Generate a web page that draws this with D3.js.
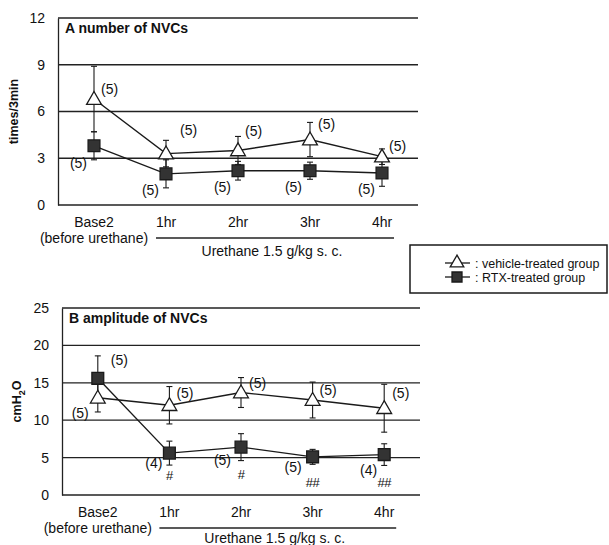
<!DOCTYPE html>
<html>
<head>
<meta charset="utf-8">
<script src="https://cdn.jsdelivr.net/npm/d3@7"></script>
<style>
  body { margin: 0; background: #fff; }
  svg { font-family: "Liberation Sans", Arial, sans-serif; }
</style>
</head>
<body>
<div id="chart"></div>
<script>
// time points on the x axis
const timepoints = ['Base2', '1hr', '2hr', '3hr', '4hr'];

// panel A: number of NVCs (times/3min), mean and SE
const countVehicle = [6.8, 3.3, 3.5, 4.2, 3.1];
const countVehicleErr = [2.1, 0.85, 0.9, 1.1, 0.5];
const countRtx = [3.8, 2.0, 2.2, 2.2, 2.05];
const countRtxErr = [0.9, 0.9, 0.6, 0.55, 0.85];
const countVehicleN = ['(5)', '(5)', '(5)', '(5)', '(5)'];
const countRtxN = ['(5)', '(5)', '(5)', '(5)', '(5)'];
const countTicks = [0, 3, 6, 9, 12];

// panel B: amplitude of NVCs (cmH2O), mean and SE
const ampVehicle = [13.0, 12.0, 13.7, 12.7, 11.6];
const ampVehicleErr = [1.9, 2.5, 2.0, 2.4, 3.2];
const ampRtx = [15.6, 5.6, 6.4, 5.1, 5.4];
const ampRtxErr = [3.0, 1.6, 1.8, 1.0, 1.45];
const ampVehicleN = ['(5)', '(5)', '(5)', '(5)', '(5)'];
const ampRtxN = ['(5)', '(4)', '(5)', '(5)', '(4)'];
const ampSig = ['', '#', '#', '##', '##'];
const ampTicks = [0, 5, 10, 15, 20, 25];

const d3svg = d3.select('#chart').append('svg')
  .attr('width', 609)
  .attr('height', 545);

// label offsets (px from the marker), [dx, dy, anchor]
const panels = [
  {
    title: 'A number of NVCs',
    ylabel: 'times/3min',
    top: 18, left: 58, right: 418, height: 187,
    ticks: countTicks,
    vehicle: countVehicle, vehicleErr: countVehicleErr,
    rtx: countRtx, rtxErr: countRtxErr,
    vehicleN: countVehicleN, rtxN: countRtxN, sig: null,
    vehicleLab: [[7, -5, 'start'], [14, -19, 'start'], [7, -14, 'start'], [8, -11, 'start'], [7, -6, 'start']],
    rtxLab: [[-7, 22, 'end'], [-7, 21, 'end'], [-7, 21, 'end'], [-8, 21, 'end'], [-7, 21, 'end']],
    ylabelX: 18,
    urethaneDy: 51,
  },
  {
    title: 'B amplitude of NVCs',
    ylabel: 'cmH2O',
    top: 308, left: 62, right: 420, height: 187,
    ticks: ampTicks,
    vehicle: ampVehicle, vehicleErr: ampVehicleErr,
    rtx: ampRtx, rtxErr: ampRtxErr,
    vehicleN: ampVehicleN, rtxN: ampRtxN, sig: ampSig,
    vehicleLab: [[-9, 20, 'end'], [7, -7, 'start'], [8, -5, 'start'], [7, -5, 'start'], [8, -10, 'start']],
    rtxLab: [[13, -13, 'start'], [-7, 15, 'end'], [-10, 18, 'end'], [-11, 15, 'end'], [-7, 20, 'end']],
    sigLab: [[0, 0], [0, 27], [0, 32], [0, 30], [0, 32]],
    ylabelX: 21,
    urethaneDy: 48,
  },
];

panels.forEach((p) => {
  const bottom = p.top + p.height;
  const x = d3.scalePoint().domain(timepoints).range([p.left, p.right]).padding(0.5);
  const y = d3.scaleLinear().domain([0, d3.max(p.ticks)]).range([bottom, p.top]);
  const g = d3svg.append('g');

  // grid lines
  g.selectAll('line.grid')
    .data(p.ticks)
    .enter()
    .append('line')
    .attr('x1', p.left).attr('x2', p.right)
    .attr('y1', (d) => y(d)).attr('y2', (d) => y(d))
    .attr('stroke', '#222').attr('stroke-width', 1.3);

  // y axis
  const yAxis = g.append('g')
    .attr('transform', `translate(${p.left},0)`)
    .call(d3.axisLeft(y).tickValues(p.ticks).tickSize(0).tickPadding(13));
  yAxis.select('.domain').attr('stroke', '#222').attr('stroke-width', 1.3);
  yAxis.selectAll('text').attr('font-size', 14).attr('fill', '#111')
    .attr('font-family', '"Liberation Sans", Arial, sans-serif');

  // x tick labels
  g.selectAll('text.xt')
    .data(timepoints)
    .enter()
    .append('text')
    .attr('x', (d) => x(d))
    .attr('y', bottom + 22)
    .attr('text-anchor', 'middle')
    .attr('font-size', 14)
    .attr('fill', '#111')
    .text((d) => d);

  g.append('text')
    .attr('x', x('Base2'))
    .attr('y', bottom + 38)
    .attr('text-anchor', 'middle')
    .attr('font-size', 14)
    .attr('fill', '#111')
    .text('(before urethane)');

  g.append('line')
    .attr('x1', x('1hr') - 10).attr('x2', x('4hr') + 12)
    .attr('y1', bottom + 33).attr('y2', bottom + 33)
    .attr('stroke', '#222').attr('stroke-width', 1.3);

  g.append('text')
    .attr('x', (x('1hr') + x('4hr')) / 2 - 2)
    .attr('y', bottom + p.urethaneDy)
    .attr('text-anchor', 'middle')
    .attr('font-size', 14)
    .attr('fill', '#111')
    .text('Urethane 1.5 g/kg s. c.');

  // panel title
  g.append('text')
    .attr('x', p.left + 7)
    .attr('y', p.top + 15)
    .attr('font-size', 14)
    .attr('font-weight', 'bold')
    .attr('fill', '#111')
    .text(p.title);

  // y axis title
  const yl = g.append('text')
    .attr('transform', `translate(${p.ylabelX},${p.top + p.height / 2}) rotate(-90)`)
    .attr('text-anchor', 'middle')
    .attr('font-size', 12.5)
    .attr('font-weight', 'bold')
    .attr('fill', '#111');
  if (p.ylabel === 'cmH2O') {
    yl.append('tspan').text('cmH');
    yl.append('tspan').attr('font-size', 9).attr('dy', 4).text('2');
    yl.append('tspan').attr('dy', -4).text('O');
  } else {
    yl.text(p.ylabel);
  }

  const line = d3.line().x((d, i) => x(timepoints[i])).y((d) => y(d));
  const series = [
    { vals: p.vehicle, err: p.vehicleErr, shape: 'tri' },
    { vals: p.rtx, err: p.rtxErr, shape: 'sq' },
  ];

  series.forEach((s) => {
    g.append('path')
      .attr('d', line(s.vals))
      .attr('fill', 'none')
      .attr('stroke', '#1a1a1a')
      .attr('stroke-width', 1.4);
  });

  series.forEach((s) => {
    const eb = g.selectAll(null)
      .data(s.vals)
      .enter()
      .append('g')
      .attr('stroke', '#1a1a1a')
      .attr('stroke-width', 1.1);
    eb.append('line')
      .attr('x1', (d, i) => x(timepoints[i])).attr('x2', (d, i) => x(timepoints[i]))
      .attr('y1', (d, i) => y(d - s.err[i])).attr('y2', (d, i) => y(d + s.err[i]));
    [-1, 1].forEach((sign) => {
      eb.append('line')
        .attr('x1', (d, i) => x(timepoints[i]) - 3).attr('x2', (d, i) => x(timepoints[i]) + 3)
        .attr('y1', (d, i) => y(d + sign * s.err[i])).attr('y2', (d, i) => y(d + sign * s.err[i]));
    });
  });

  series.forEach((s) => {
    const sym = d3.symbol().type(s.shape === 'tri' ? d3.symbolTriangle : d3.symbolSquare)
      .size(s.shape === 'tri' ? 95 : 140);
    g.selectAll(null)
      .data(s.vals)
      .enter()
      .append('path')
      .attr('d', sym)
      .attr('transform', (d, i) => `translate(${x(timepoints[i])},${y(d) + (s.shape === 'tri' ? 1 : 0)})`)
      .attr('fill', s.shape === 'tri' ? '#fff' : '#333')
      .attr('stroke', '#1a1a1a')
      .attr('stroke-width', 1.3);
  });

  // n labels
  const labelSets = [
    { vals: p.vehicle, text: p.vehicleN, off: p.vehicleLab },
    { vals: p.rtx, text: p.rtxN, off: p.rtxLab },
  ];
  labelSets.forEach((ls) => {
    g.selectAll(null)
      .data(ls.vals)
      .enter()
      .append('text')
      .attr('x', (d, i) => x(timepoints[i]) + ls.off[i][0])
      .attr('y', (d, i) => y(d) + ls.off[i][1])
      .attr('text-anchor', (d, i) => ls.off[i][2])
      .attr('font-size', 14)
      .attr('fill', '#111')
      .text((d, i) => ls.text[i]);
  });

  if (p.sig) {
    g.selectAll(null)
      .data(p.rtx)
      .enter()
      .append('text')
      .attr('x', (d, i) => x(timepoints[i]) + p.sigLab[i][0])
      .attr('y', (d, i) => y(d) + p.sigLab[i][1])
      .attr('text-anchor', 'middle')
      .attr('font-size', 13)
      .attr('letter-spacing', -0.5)
      .attr('fill', '#111')
      .text((d, i) => p.sig[i]);
  }
});

// legend
const legend = d3svg.append('g');
legend.append('rect')
  .attr('x', 410).attr('y', 245)
  .attr('width', 197).attr('height', 48)
  .attr('fill', '#fff')
  .attr('stroke', '#1a1a1a')
  .attr('stroke-width', 1.5);

const legendItems = [
  { label: ': vehicle-treated group', shape: 'tri' },
  { label: ': RTX-treated group', shape: 'sq' },
];
legendItems.forEach((it, i) => {
  const cy = 263 + i * 14;
  legend.append('line')
    .attr('x1', 445).attr('x2', 470)
    .attr('y1', cy).attr('y2', cy)
    .attr('stroke', '#1a1a1a').attr('stroke-width', 1.3);
  legend.append('path')
    .attr('d', d3.symbol().type(it.shape === 'tri' ? d3.symbolTriangle : d3.symbolSquare)
      .size(it.shape === 'tri' ? 80 : 100))
    .attr('transform', `translate(457,${cy})`)
    .attr('fill', it.shape === 'tri' ? '#fff' : '#333')
    .attr('stroke', '#1a1a1a')
    .attr('stroke-width', 1.3);
  legend.append('text')
    .attr('x', 475)
    .attr('y', cy + 5)
    .attr('font-size', 12.5)
    .attr('fill', '#111')
    .text(it.label);
});
</script>
</body>
</html>
